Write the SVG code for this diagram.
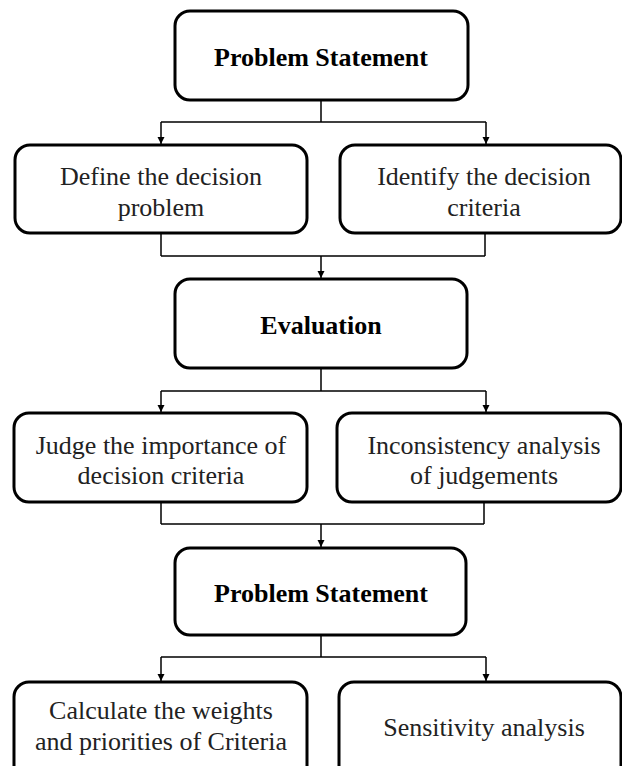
<svg xmlns="http://www.w3.org/2000/svg" width="622" height="766" viewBox="0 0 622 766">
<style>
.box{fill:#fff;stroke:#000;stroke-width:3}
.t{font-family:"Liberation Serif","Times New Roman",serif;font-size:26px;fill:#222;text-anchor:middle}
.b{font-weight:bold;fill:#000}
.c{fill:none;stroke:#000;stroke-width:1.5}
</style>
<defs>
<marker id="ah" markerUnits="userSpaceOnUse" markerWidth="8" markerHeight="8" refX="7" refY="4" orient="auto">
<path d="M0,0.5 L7,4 L0,7.5 z" fill="#000"/>
</marker>
</defs>
<rect width="622" height="766" fill="#fff"/>
<g id="connectors">
<path class="c" d="M321,100 V122 M161,122 H486"/>
<path class="c" d="M161,122 V144" marker-end="url(#ah)"/>
<path class="c" d="M486,122 V144" marker-end="url(#ah)"/>
<path class="c" d="M161,233 V256 M485,233 V256 M161,256 H485"/>
<path class="c" d="M321,256 V278" marker-end="url(#ah)"/>
<path class="c" d="M321,368 V391 M161,391 H486"/>
<path class="c" d="M161,391 V412" marker-end="url(#ah)"/>
<path class="c" d="M486,391 V412" marker-end="url(#ah)"/>
<path class="c" d="M161,502 V524 M484,502 V524 M161,524 H484"/>
<path class="c" d="M321,524 V547" marker-end="url(#ah)"/>
<path class="c" d="M321,635 V657 M161,657 H486"/>
<path class="c" d="M161,657 V681" marker-end="url(#ah)"/>
<path class="c" d="M486,657 V681" marker-end="url(#ah)"/>
</g>
<g id="n1">
<rect class="box" x="175" y="11" width="293" height="89" rx="15"/>
<text class="t b" x="321" y="66">Problem Statement</text>
</g>
<g id="n2">
<rect class="box" x="15" y="145" width="292" height="88" rx="15"/>
<text class="t" x="161" y="185">Define the decision</text>
<text class="t" x="161" y="216">problem</text>
</g>
<g id="n3">
<rect class="box" x="340" y="145" width="281" height="88" rx="15"/>
<text class="t" x="484" y="185">Identify the decision</text>
<text class="t" x="484" y="216">criteria</text>
</g>
<g id="n4">
<rect class="box" x="175" y="279" width="292" height="89" rx="15"/>
<text class="t b" x="321" y="334">Evaluation</text>
</g>
<g id="n5">
<rect class="box" x="14" y="413" width="293" height="89" rx="15"/>
<text class="t" x="161" y="454">Judge the importance of</text>
<text class="t" x="161" y="484">decision criteria</text>
</g>
<g id="n6">
<rect class="box" x="337" y="413" width="284" height="89" rx="15"/>
<text class="t" x="484" y="454">Inconsistency analysis</text>
<text class="t" x="484" y="484">of judgements</text>
</g>
<g id="n7">
<rect class="box" x="175" y="548" width="291" height="87" rx="15"/>
<text class="t b" x="321" y="602">Problem Statement</text>
</g>
<g id="n8">
<rect class="box" x="14" y="682" width="293" height="100" rx="15"/>
<text class="t" x="161" y="719">Calculate the weights</text>
<text class="t" x="161" y="750">and priorities of Criteria</text>
</g>
<g id="n9">
<rect class="box" x="339" y="682" width="282" height="100" rx="15"/>
<text class="t" x="484" y="736">Sensitivity analysis</text>
</g>
</svg>
